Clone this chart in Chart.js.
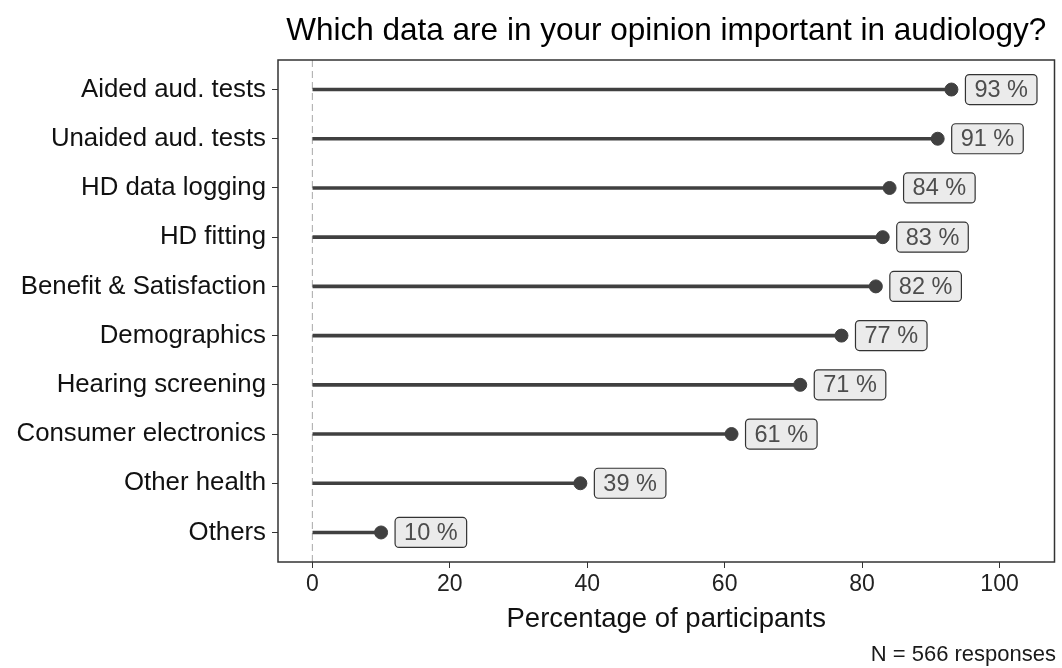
<!DOCTYPE html>
<html>
<head>
<meta charset="utf-8">
<script src="https://cdn.jsdelivr.net/npm/chart.js@4"></script>
<style>
  html, body { margin: 0; padding: 0; background: #fff; }
  #wrap { width: 1062px; height: 668px; }
</style>
</head>
<body>
<div id="wrap"><canvas id="myChart"></canvas></div>
<script>
const categories = [
  'Aided aud. tests',
  'Unaided aud. tests',
  'HD data logging',
  'HD fitting',
  'Benefit & Satisfaction',
  'Demographics',
  'Hearing screening',
  'Consumer electronics',
  'Other health',
  'Others',
];
const percentages = [93, 91, 84, 83, 82, 77, 71, 61, 39, 10];
const xTicks = [0, 20, 40, 60, 80, 100];

const chartTitle = 'Which data are in your opinion important in audiology?';
const xTitle = 'Percentage of participants';
const caption = 'N = 566 responses';

const FONT = '"Liberation Sans", Arial, sans-serif';
const ink = '#404040';

const points = percentages.map((v, i) => ({ x: v, y: i }));

// frame, zero line, value labels, title and caption
const decor = {
  id: 'decor',
  beforeDatasetsDraw(chart) {
    const { ctx, chartArea: a, scales } = chart;
    const x0 = scales.x.getPixelForValue(0);
    ctx.save();
    ctx.strokeStyle = '#a8a8a8';
    ctx.lineWidth = 1;
    ctx.setLineDash([7, 4]);
    ctx.beginPath();
    ctx.moveTo(x0, a.top);
    ctx.lineTo(x0, a.bottom);
    ctx.stroke();
    ctx.restore();
  },
  afterDatasetsDraw(chart) {
    const { ctx, chartArea: a, scales } = chart;
    ctx.save();
    ctx.strokeStyle = '#333';
    ctx.lineWidth = 1.5;
    ctx.strokeRect(a.left, a.top, a.right - a.left, a.bottom - a.top);

    ctx.font = '23.5px ' + FONT;
    ctx.textBaseline = 'middle';
    ctx.textAlign = 'left';
    percentages.forEach((v, i) => {
      const txt = v + ' %';
      const px = scales.x.getPixelForValue(v) + 14;
      const py = scales.y.getPixelForValue(i);
      const w = ctx.measureText(txt).width + 18;
      const h = 30;
      ctx.beginPath();
      ctx.roundRect(px, py - h / 2, w, h, 4);
      ctx.fillStyle = '#ebebeb';
      ctx.fill();
      ctx.lineWidth = 1.2;
      ctx.strokeStyle = '#333';
      ctx.stroke();
      ctx.fillStyle = '#4d4d4d';
      ctx.fillText(txt, px + 9, py + 1);
    });

    ctx.fillStyle = '#000';
    ctx.textAlign = 'center';
    ctx.font = '31.5px ' + FONT;
    ctx.fillText(chartTitle, (a.left + a.right) / 2, 31);

    ctx.textAlign = 'right';
    ctx.font = '22px ' + FONT;
    ctx.fillStyle = '#1a1a1a';
    ctx.fillText(caption, 1056, 655);
    ctx.restore();
  },
};

const config = {
  type: 'bar',
  data: {
    datasets: [
      {
        type: 'bar',
        data: points,
        backgroundColor: ink,
        borderWidth: 0,
        barThickness: 3,
        order: 2,
      },
      {
        type: 'scatter',
        data: points,
        backgroundColor: ink,
        borderColor: ink,
        pointRadius: 6.5,
        pointHoverRadius: 6.5,
        order: 1,
      },
    ],
  },
  options: {
    indexAxis: 'y',
    responsive: true,
    maintainAspectRatio: false,
    animation: false,
    layout: { padding: { top: 60, right: 5, bottom: 26, left: 0 } },
    plugins: {
      legend: { display: false },
      tooltip: { enabled: false },
    },
    scales: {
      x: {
        type: 'linear',
        min: -5,
        max: 108,
        afterBuildTicks: (s) => { s.ticks = xTicks.map((v) => ({ value: v })); },
        afterFit: (s) => { s.height = 80; },
        border: { display: false },
        grid: { drawOnChartArea: false, drawTicks: true, tickLength: 6, color: '#333' },
        ticks: { padding: 3, color: '#222', font: { family: FONT, size: 23 } },
        title: {
          display: true,
          text: xTitle,
          color: '#111',
          padding: { top: 4, bottom: 6 },
          font: { family: FONT, size: 27.5 },
        },
      },
      y: {
        type: 'linear',
        reverse: true,
        offset: false,
        min: -0.6,
        max: 9.6,
        afterBuildTicks: (s) => { s.ticks = categories.map((c, i) => ({ value: i })); },
        afterFit: (s) => { s.width = 278; },
        border: { display: false },
        grid: { offset: false, drawOnChartArea: false, drawTicks: true, tickLength: 6, color: '#333' },
        ticks: {
          padding: 6,
          color: '#111',
          font: { family: FONT, size: 25.8 },
          callback: (v) => categories[v] ?? '',
        },
      },
    },
  },
  plugins: [decor],
};

const myChart = new Chart(document.getElementById('myChart'), config);
</script>
</body>
</html>
